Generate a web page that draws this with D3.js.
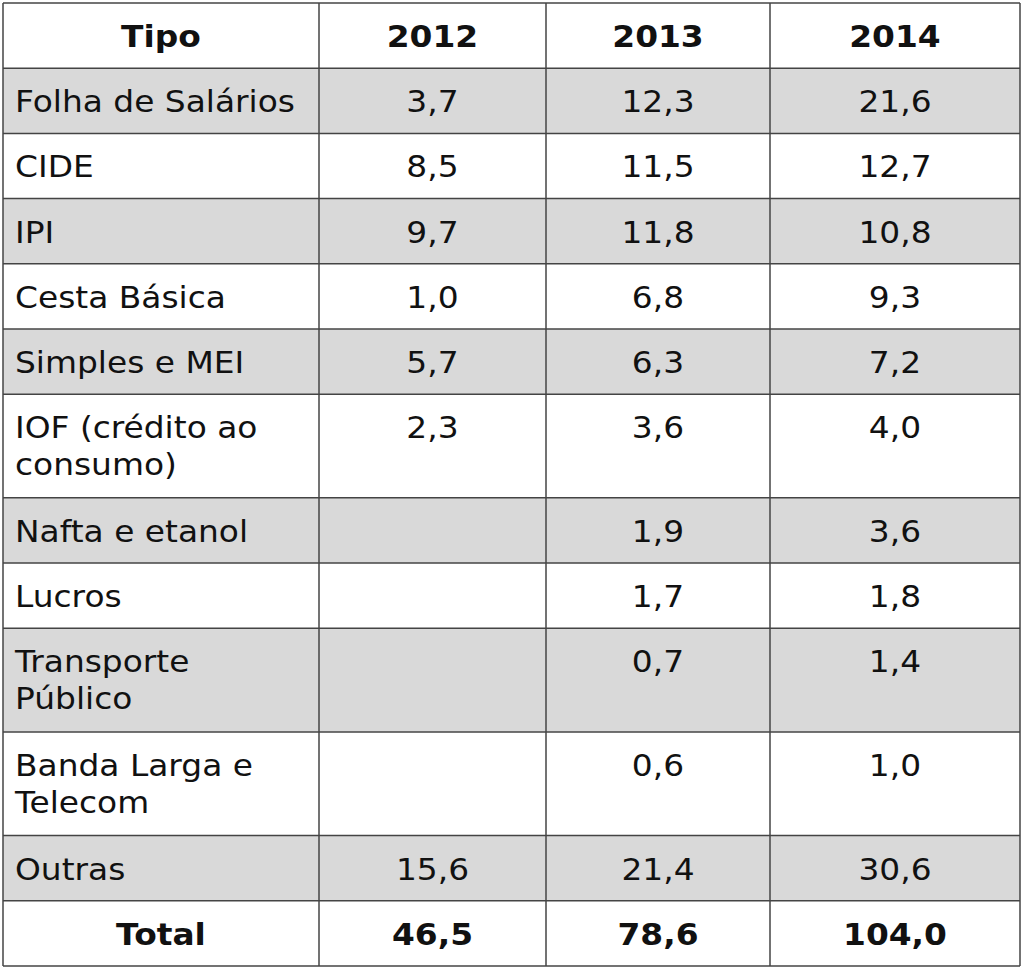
<!DOCTYPE html>
<html><head><meta charset="utf-8">
<script src="https://cdn.jsdelivr.net/npm/d3@7"></script>
<style>body{margin:0;background:#fff}</style>
</head><body>
<script>
const columns = ["Tipo", "2012", "2013", "2014"];
const types = [["Folha de Salários"], ["CIDE"], ["IPI"], ["Cesta Básica"], ["Simples e MEI"],
  ["IOF (crédito ao", "consumo)"], ["Nafta e etanol"], ["Lucros"], ["Transporte", "Público"],
  ["Banda Larga e", "Telecom"], ["Outras"]];
const v2012 = ["3,7", "8,5", "9,7", "1,0", "5,7", "2,3", "", "", "", "", "15,6"];
const v2013 = ["12,3", "11,5", "11,8", "6,8", "6,3", "3,6", "1,9", "1,7", "0,7", "0,6", "21,4"];
const v2014 = ["21,6", "12,7", "10,8", "9,3", "7,2", "4,0", "3,6", "1,8", "1,4", "1,0", "30,6"];
const totals = ["46,5", "78,6", "104,0"];

const W = 1024, H = 970;
const svg = d3.select("body").append("svg").attr("width", W).attr("height", H)
  .style("font-family", "DejaVu Sans").style("font-size", "31px");

const colEdges = [3, 319, 546, 770, 1020];
const x = d3.scaleLinear().domain([0, 1, 2, 3, 4]).range(colEdges);

// rows: header, data, total; height by line count
const rows = [{cells: columns, header: true, lines: 1}]
  .concat(types.map((t, i) => ({cells: [t, v2012[i], v2013[i], v2014[i]], lines: t.length, grey: i % 2 === 0})))
  .concat([{cells: ["Total", ...totals], header: true, lines: 1}]);
const units = [0];
rows.forEach(r => units.push(units[units.length - 1] + (r.lines === 1 ? 1 : 1.59)));
const y = d3.scaleLinear().domain([0, units[units.length - 1]]).range([3, 966]);

const g = svg.selectAll("g.row").data(rows).join("g").attr("class", "row");
g.append("rect")
  .attr("x", x(0)).attr("width", x(4) - x(0))
  .attr("y", (d, i) => y(units[i])).attr("height", (d, i) => y(units[i + 1]) - y(units[i]))
  .attr("fill", d => d.grey ? "#d9d9d9" : "#fff");

g.each(function(d, i) {
  const top = y(units[i]);
  d.cells.forEach((c, j) => {
    const lines = Array.isArray(c) ? c : [c];
    const cx = j === 0 && !d.header ? x(0) + 12 : (x(j) + x(j + 1)) / 2;
    const t = d3.select(this).append("text")
      .attr("font-weight", d.header ? "bold" : "normal")
      .attr("fill", "#111")
      .attr("text-anchor", j === 0 && !d.header ? "start" : "middle")
      .attr("transform", `translate(${cx},0) scale(1.06,1) translate(${-cx},0)`);
    lines.forEach((l, k) => t.append("tspan")
      .attr("x", cx).attr("y", top + 44 + k * 37).text(l));
  });
});

// grid lines
svg.selectAll("line.h").data(units).join("line")
  .attr("x1", x(0)).attr("x2", x(4)).attr("y1", d => y(d)).attr("y2", d => y(d))
  .attr("stroke", "#444").attr("stroke-width", 1.5);
svg.selectAll("line.v").data(colEdges).join("line").attr("class", "v")
  .attr("x1", d => d).attr("x2", d => d).attr("y1", y(0)).attr("y2", y(units[units.length - 1]))
  .attr("stroke", "#444").attr("stroke-width", 1.5);
</script>
</body></html>
